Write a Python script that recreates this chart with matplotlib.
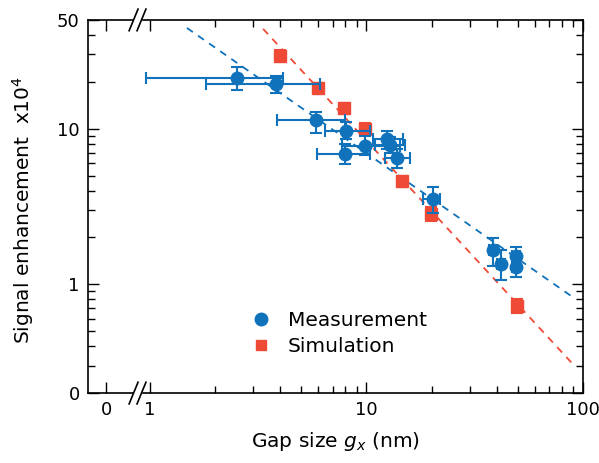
import matplotlib
matplotlib.use("Agg")
import matplotlib.pyplot as plt
import numpy as np
from matplotlib.lines import Line2D
from matplotlib.ticker import FixedLocator, FixedFormatter, NullFormatter

blue = '#0f72bb'
red = '#ef4a35'

# Measurement (gap in nm, enhancement x1e4) with error ranges
meas_x = [2.52, 3.82, 5.85, 8.04, 7.96, 9.84, 12.4, 12.8, 13.8, 20.3, 38.4, 41.8, 49.0, 49.0]
meas_x_lo = [0.96, 1.81, 3.86, 6.43, 5.90, 7.70, 10.7, 11.0, 12.2, 18.2, 36.8, 40.0, 47.0, 47.0]
meas_x_hi = [4.11, 6.10, 7.96, 10.4, 10.4, 14.3, 14.7, 15.0, 15.9, 21.9, 40.0, 43.6, 51.0, 51.0]
meas_y = [21.2, 19.4, 11.3, 9.71, 6.92, 7.78, 8.63, 7.89, 6.52, 3.51, 1.65, 1.36, 1.51, 1.30]
meas_y_lo = [17.8, 17.0, 9.43, 8.6, 5.97, 6.81, 7.44, 7.0, 5.62, 2.89, 1.32, 1.06, 1.27, 1.11]
meas_y_hi = [25.0, 21.9, 12.8, 11.0, 8.01, 9.02, 9.71, 8.8, 7.44, 4.19, 1.97, 1.65, 1.73, 1.53]

# Simulation
sim_x = [3.98, 5.97, 7.9, 9.9, 14.6, 19.9, 49.6]
sim_y = [29.4, 18.3, 13.6, 10.0, 4.6, 2.85, 0.73]
sim_y_lo = [27.2, 17.0, 12.6, 9.3, 4.25, 2.55, 0.65]
sim_y_hi = [31.8, 19.7, 14.6, 10.8, 4.95, 3.15, 0.81]

# dashed fit lines (end points)
fit_meas_x = [1.48, 90]
fit_meas_y = [44.4, 0.826]
fit_sim_x = [3.33, 89]
fit_sim_y = [43.8, 0.312]

fig = plt.figure(figsize=(5.99, 4.63), dpi=100)
ax = fig.add_axes([0.147, 0.151, 0.826, 0.806])
ax.set_xscale('log')
ax.set_yscale('log')
ax.set_xlim(0.517, 100)
ax.set_ylim(0.2, 50)

ax.plot(fit_meas_x, fit_meas_y, color=blue, ls=(0, (4, 3.5)), lw=1.3, zorder=1)
ax.plot(fit_sim_x, fit_sim_y, color=red, ls=(0, (4, 3.5)), lw=1.3, zorder=1)

mx = np.array(meas_x)
my = np.array(meas_y)
ax.errorbar(mx, my,
            xerr=[mx - np.array(meas_x_lo), np.array(meas_x_hi) - mx],
            yerr=[my - np.array(meas_y_lo), np.array(meas_y_hi) - my],
            fmt='o', color=blue, ms=9, elinewidth=1.5, capsize=4, capthick=1.5, zorder=3)
sx = np.array(sim_x)
sy = np.array(sim_y)
ax.errorbar(sx, sy, yerr=[sy - np.array(sim_y_lo), np.array(sim_y_hi) - sy],
            fmt='s', color=red, ms=8, elinewidth=1.5, capsize=4, capthick=1.5, zorder=2)

# ticks
ax.xaxis.set_major_locator(FixedLocator([0.626, 1, 10, 100]))
ax.xaxis.set_major_formatter(FixedFormatter(['0', '1', '10', '100']))
ax.xaxis.set_minor_locator(FixedLocator([2, 3, 4, 5, 6, 7, 8, 9, 20, 30, 40, 50, 60, 70, 80, 90]))
ax.xaxis.set_minor_formatter(NullFormatter())
ax.yaxis.set_major_locator(FixedLocator([0.2, 1, 10, 50]))
ax.yaxis.set_major_formatter(FixedFormatter(['0', '1', '10', '50']))
ax.yaxis.set_minor_locator(FixedLocator([0.3, 0.4, 0.5, 0.6, 0.7, 0.8, 0.9,
                                         2, 3, 4, 5, 6, 7, 8, 9, 20, 30, 40]))
ax.yaxis.set_minor_formatter(NullFormatter())
ax.tick_params(which='both', direction='in', top=True, right=True, labelsize=13, width=1)
ax.tick_params(which='major', length=8, pad=6)
ax.tick_params(which='minor', length=5)
for s in ax.spines.values():
    s.set_linewidth(1.2)

# axis break marks on top and bottom
for yb in (0, 1):
    ax.add_patch(plt.Rectangle((0.093, yb - 0.012), 0.014, 0.024, transform=ax.transAxes,
                               color='white', clip_on=False, zorder=5))
    for dx in (-0.008, 0.008):
        ax.plot([0.1 + dx - 0.009, 0.1 + dx + 0.009], [yb - 0.029, yb + 0.029],
                transform=ax.transAxes, color='black', lw=1.2, clip_on=False, zorder=6)

ax.set_xlabel('Gap size $g_x$ (nm)', fontsize=14.5)
ax.xaxis.set_label_coords(0.5, -0.1)
ax.set_ylabel('Signal enhancement  x10$^4$', fontsize=14.5)
ax.yaxis.set_label_coords(-0.105, 0.49)

handles = [Line2D([], [], marker='o', ls='none', color=blue, ms=9),
           Line2D([], [], marker='s', ls='none', color=red, ms=7.5)]
ax.legend(handles, ['Measurement', 'Simulation'], loc='upper left',
          bbox_to_anchor=(0.33, 0.22), frameon=False, fontsize=14.5,
          handlelength=1.0, handletextpad=0.8, labelspacing=0.35, borderpad=0,
          borderaxespad=0)

fig.savefig('out.png', dpi=100)
